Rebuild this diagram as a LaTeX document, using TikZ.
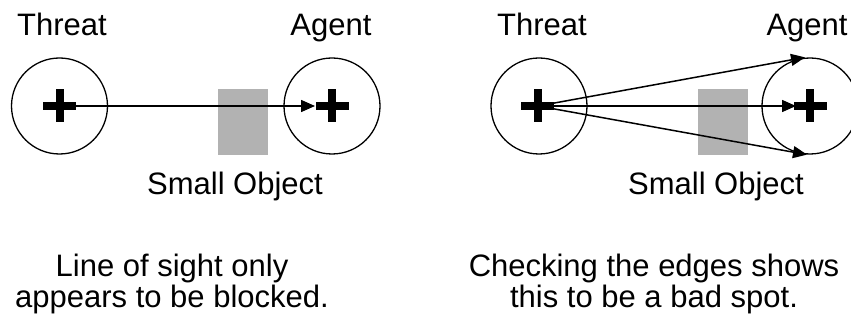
\documentclass[tikz,border=0pt]{standalone}
\usepackage{fontspec}
\setmainfont{Liberation Sans}
\usetikzlibrary{arrows.meta}
\begin{document}
\begin{tikzpicture}[x=1pt,y=-1pt,
  zone/.style={circle,draw,line width=1.3pt,minimum size=96pt,inner sep=0pt},
  obstacle/.style={fill=black!30,draw=none,minimum width=50pt,minimum height=66pt,inner sep=0pt},
  label/.style={font=\fontsize{31}{35}\selectfont,inner sep=0pt,anchor=base},
  sight/.style={line width=1.5pt,-{Triangle[length=14pt,width=12pt]}},
  plusmark/.style={line width=7.5pt}]
\useasboundingbox (0,0) rectangle (851,323);
\clip (0,0) rectangle (851,323);

% left panel: straight line of sight
\node[zone] (th1) at (59.5,106) {};
\node[zone] (ag1) at (332,106) {};
\node[obstacle] (ob1) at (243,122) {};
\draw[plusmark] (43,106) -- (76,106) (60,89.5) -- (60,122.5);
\draw[plusmark] (316,106) -- (349,106) (332,89.5) -- (332,122.5);
\coordinate (t1) at (60,106);
\coordinate (a1) at (332,106);
\draw[sight,shorten >=17pt] (t1) -- (a1);
\node[label] (lt1) at (62,36) {Threat};
\node[label] (la1) at (331,36) {Agent};
\node[label] (lo1) at (235,195) {Small Object};
\node[label] (c1a) at (172,276) {Line of sight only};
\node[label] (c1b) at (172,307) {appears to be blocked.};

% right panel: checking the edges
\node[zone] (th2) at (539,106) {};
\node[zone] (ag2) at (810,106) {};
\node[obstacle] (ob2) at (723,122) {};
\draw[plusmark] (521,106) -- (554,106) (538,89.5) -- (538,122.5);
\draw[plusmark] (794,106) -- (827,106) (810,89.5) -- (810,122.5);
\coordinate (t2) at (538,106);
\coordinate (a2) at (810,106);
\draw[sight,shorten >=14pt] (t2) -- (a2);
\draw[sight] (t2) -- ([xshift=-5pt]ag2.north);
\draw[sight] (t2) -- ([xshift=-3pt]ag2.south);
\node[label] (lt2) at (542,36) {Threat};
\node[label] (la2) at (807,36) {Agent};
\node[label] (lo2) at (716,195) {Small Object};
\node[label] (c2a) at (654,276) {Checking the edges shows};
\node[label] (c2b) at (654,307) {this to be a bad spot.};
\end{tikzpicture}
\end{document}
